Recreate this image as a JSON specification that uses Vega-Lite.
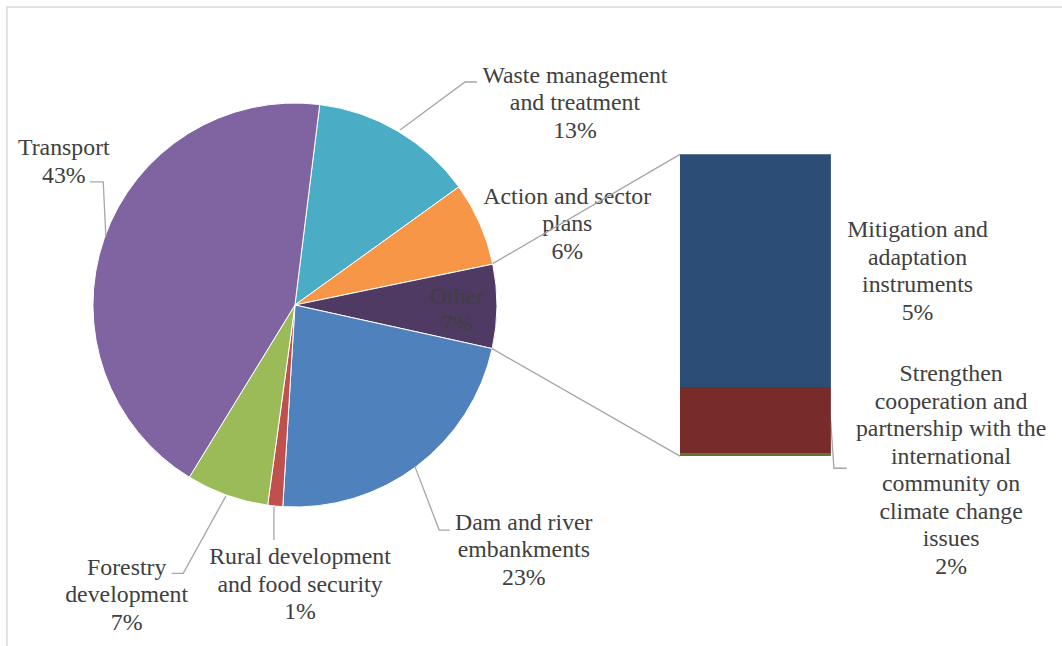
{
  "$schema": "https://vega.github.io/schema/vega-lite/v6.json",
  "width": 1062,
  "height": 646,
  "padding": 0,
  "autosize": {"type": "none"},
  "background": "white",
  "config": {"view": {"stroke": null}},
  "datasets": {
    "slices": [
      {"sector": "Waste management and treatment", "share": 13.1, "order": 1},
      {"sector": "Action and sector plans", "share": 6.7, "order": 2},
      {"sector": "Other", "share": 6.7, "order": 3},
      {"sector": "Dam and river embankments", "share": 22.5, "order": 4},
      {"sector": "Rural development and food security", "share": 1.2, "order": 5},
      {"sector": "Forestry development", "share": 6.6, "order": 6},
      {"sector": "Transport", "share": 43.2, "order": 7}
    ],
    "other_breakdown": [
      {"item": "Unlabelled item", "share": 0.05, "order": 1},
      {"item": "Strengthen cooperation and partnership with the international community on climate change issues", "share": 1.48, "order": 2},
      {"item": "Mitigation and adaptation instruments", "share": 5.17, "order": 3}
    ],
    "lines": [
      {"id": "waste", "seq": 1, "x": 52.0, "y": 86.6},
      {"id": "waste", "seq": 2, "x": 84.2, "y": 110.4},
      {"id": "waste", "seq": 3, "x": 90.1, "y": 110.4},
      {"id": "transport", "seq": 1, "x": -101.5, "y": 61.0},
      {"id": "transport", "seq": 2, "x": -94.9, "y": 61.0},
      {"id": "transport", "seq": 3, "x": -93.6, "y": 33.8},
      {"id": "dam", "seq": 1, "x": 59.4, "y": -80.0},
      {"id": "dam", "seq": 2, "x": 71.4, "y": -111.4},
      {"id": "dam", "seq": 3, "x": 76.7, "y": -111.4},
      {"id": "rural", "seq": 1, "x": -10.4, "y": -99.9},
      {"id": "rural", "seq": 2, "x": -10.4, "y": -116.3},
      {"id": "forestry", "seq": 1, "x": -34.2, "y": -94.6},
      {"id": "forestry", "seq": 2, "x": -55.3, "y": -132.8},
      {"id": "forestry", "seq": 3, "x": -61.0, "y": -132.8},
      {"id": "strengthen", "seq": 1, "x": 265.2, "y": -57.3},
      {"id": "strengthen", "seq": 2, "x": 266.8, "y": -80.8},
      {"id": "strengthen", "seq": 3, "x": 273.1, "y": -80.8},
      {"id": "connector_top", "seq": 1, "x": 97.9, "y": 20.5},
      {"id": "connector_top", "seq": 2, "x": 190.6, "y": 74.6},
      {"id": "connector_bottom", "seq": 1, "x": 97.6, "y": -21.6},
      {"id": "connector_bottom", "seq": 2, "x": 190.6, "y": -74.8}
    ],
    "labels": [
      {"text": "Transport\n43%", "x": -114.4, "y": 77.7},
      {"text": "Waste management\nand treatment\n13%", "x": 138.6, "y": 113.4},
      {"text": "Action and sector\nplans\n6%", "x": 134.8, "y": 53.6},
      {"text": "Other\n7%", "x": 80.2, "y": 4.1},
      {"text": "Dam and river\nembankments\n23%", "x": 113.3, "y": -107.8},
      {"text": "Rural development\nand food security\n1%", "x": 2.5, "y": -124.9},
      {"text": "Forestry\ndevelopment\n7%", "x": -83.3, "y": -130.0},
      {"text": "Mitigation and\nadaptation\ninstruments\n5%", "x": 308.2, "y": 37.1},
      {"text": "Strengthen\ncooperation and\npartnership with the\ninternational\ncommunity on\nclimate change\nissues\n2%", "x": 324.8, "y": -34.2}
    ]
  },
  "layer": [
    {
      "layer": [
        {
          "data": {"values": [{}]},
          "mark": {"type": "rect", "fill": null, "stroke": "#D9D9D9", "strokeWidth": 1.5, "clip": true},
          "encoding": {
            "x": {"datum": -142.6, "type": "quantitative", "scale": {"domain": [-146.0, 379.7], "nice": false, "zero": false}, "axis": null},
            "x2": {"datum": 420},
            "y": {"datum": 147.5, "type": "quantitative", "scale": {"domain": [-168.8, 151.0], "nice": false, "zero": false}, "axis": null},
            "y2": {"datum": -220}
          }
        },
        {
          "data": {"name": "slices"},
          "mark": {"type": "arc", "radius": 202, "stroke": "white", "strokeWidth": 1},
          "encoding": {
            "x": {"datum": 0, "type": "quantitative", "scale": {"domain": [-146.0, 379.7], "nice": false, "zero": false}, "axis": null},
            "y": {"datum": 0, "type": "quantitative", "scale": {"domain": [-168.8, 151.0], "nice": false, "zero": false}, "axis": null},
            "theta": {"field": "share", "type": "quantitative", "stack": true, "scale": {"range": [0.123, 6.4062]}},
            "order": {"field": "order", "type": "quantitative"},
            "color": {
              "field": "sector",
              "type": "nominal",
              "legend": null,
              "scale": {
                "domain": ["Waste management and treatment", "Action and sector plans", "Other", "Dam and river embankments", "Rural development and food security", "Forestry development", "Transport"],
                "range": ["#4BACC6", "#F79646", "#4E3A62", "#4F81BD", "#C0504D", "#9BBB59", "#8064A2"]
              }
            }
          }
        },
        {
          "data": {"name": "labels"},
          "mark": {"type": "text", "font": "Liberation Serif", "fontSize": 23.8, "lineHeight": 27.5, "lineBreak": "\n", "align": "center", "baseline": "middle", "color": "#404040"},
          "encoding": {
            "x": {"field": "x", "type": "quantitative", "axis": null},
            "y": {"field": "y", "type": "quantitative", "axis": null},
            "text": {"field": "text", "type": "nominal"}
          }
        },
        {
          "data": {"name": "lines"},
          "mark": {"type": "line", "color": "#A6A6A6", "strokeWidth": 1.3},
          "encoding": {
            "x": {"field": "x", "type": "quantitative", "axis": null},
            "y": {"field": "y", "type": "quantitative", "axis": null},
            "detail": {"field": "id", "type": "nominal"},
            "order": {"field": "seq", "type": "quantitative"}
          }
        }
      ]
    },
    {
      "data": {"name": "other_breakdown"},
      "transform": [
        {"stack": "share", "groupby": [], "sort": [{"field": "order", "order": "ascending"}], "as": ["share_start", "share_end"]}
      ],
      "mark": {"type": "rect"},
      "encoding": {
        "x": {"datum": 190.6, "type": "quantitative", "axis": null},
        "x2": {"datum": 265.3},
        "y": {"field": "share_start", "type": "quantitative", "axis": null, "scale": {"domain": [-4.219, 10.127], "nice": false, "zero": false}},
        "y2": {"field": "share_end"},
        "color": {
          "field": "item",
          "type": "nominal",
          "legend": null,
          "scale": {
            "domain": ["Unlabelled item", "Strengthen cooperation and partnership with the international community on climate change issues", "Mitigation and adaptation instruments"],
            "range": ["#5F7530", "#772C2A", "#2C4D75"]
          }
        }
      }
    }
  ],
  "resolve": {"scale": {"y": "independent", "color": "independent"}}
}
